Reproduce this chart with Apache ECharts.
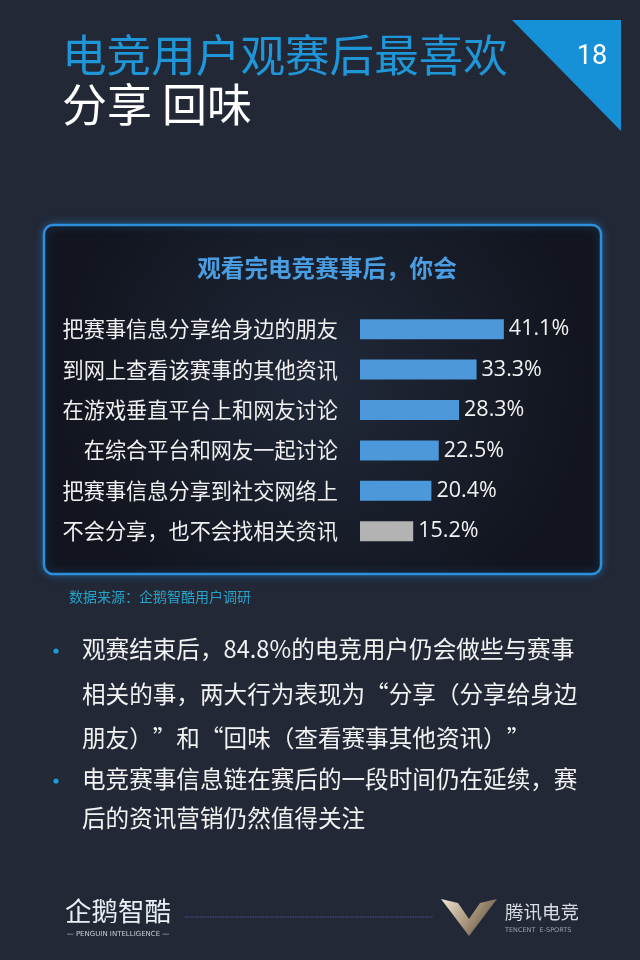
<!DOCTYPE html>
<html>
<head>
<meta charset="utf-8">
<script src="https://cdn.jsdelivr.net/npm/echarts@6/dist/echarts.min.js"></script>
<style>
html,body{margin:0;padding:0;background:#222836;}
#chart{width:640px;height:960px;}
</style>
</head>
<body>
<div id="chart"></div>
<script>
// ---- data ----
const pageTitle1 = '电竞用户观赛后最喜欢';
const pageTitle2 = '分享 回味';
const pageNumber = '18';
const chartTitle = '观看完电竞赛事后，你会';
const categories = [
  '把赛事信息分享给身边的朋友',
  '到网上查看该赛事的其他资讯',
  '在游戏垂直平台上和网友讨论',
  '在综合平台和网友一起讨论',
  '把赛事信息分享到社交网络上',
  '不会分享，也不会找相关资讯'
];
const values = [41.1, 33.3, 28.3, 22.5, 20.4, 15.2];
const sourceText = '数据来源：企鹅智酷用户调研';
const bulletLines = [
  '观赛结束后，84.8%的电竞用户仍会做些与赛事',
  '相关的事，两大行为表现为“分享（分享给身边',
  '朋友）”和“回味（查看赛事其他资讯）”',
  '电竞赛事信息链在赛后的一段时间仍在延续，赛',
  '后的资讯营销仍然值得关注'
];
const bulletStarts = [true, false, false, true, false];
const logoLeft = '企鹅智酷';
const logoLeftSub = '— PENGUIN INTELLIGENCE —';
const logoRight = '腾讯电竞';
const logoRightSub = 'TENCENT  E-SPORTS';

// ---- chart ----
const CJK = '"Noto Sans CJK SC", "Noto Sans", sans-serif';
const chart = echarts.init(document.getElementById('chart'), null, {renderer: 'canvas'});

const lineYs = [649, 694, 738, 779, 818];
const bulletGraphics = [];
bulletLines.forEach((t, i) => {
  bulletGraphics.push({
    type: 'text', x: 82, y: lineYs[i], z: 10,
    style: {text: t, fill: '#f2f2f2', font: '23.6px ' + CJK, textVerticalAlign: 'middle'}
  });
  if (bulletStarts[i]) {
    bulletGraphics.push({
      type: 'circle', shape: {cx: 56, cy: lineYs[i] + 2, r: 2.6}, z: 10,
      style: {fill: '#1f9ad8'}
    });
  }
});

const option = {
  backgroundColor: '#222836',
  animation: false,
  title: {
    text: chartTitle,
    left: 322, top: 251, textAlign: 'center',
    textStyle: {color: '#4b9de2', fontSize: 23.6, fontWeight: 'bold', fontFamily: CJK}
  },
  grid: {left: 360, top: 309, width: 245, height: 242.4, containLabel: false},
  xAxis: {
    type: 'value', min: 0, max: 70, show: false
  },
  yAxis: {
    type: 'category', data: categories, inverse: true,
    axisLine: {show: false}, axisTick: {show: false}, splitLine: {show: false},
    axisLabel: {color: '#f0f0f0', fontSize: 21.2, fontFamily: CJK, margin: 22}
  },
  series: [{
    type: 'bar', data: values, barWidth: 20, z: 5,
    itemStyle: {
      color: p => p.dataIndex === values.length - 1 ? '#b3b3b3' : '#4d98da'
    },
    label: {
      show: true, position: 'right', distance: 5,
      formatter: '{c}%', color: '#f2f2f2', fontSize: 21.5,
      fontFamily: '"Open Sans", "Noto Sans", sans-serif'
    }
  }],
  graphic: [
    // page number triangle
    {type: 'polygon', shape: {points: [[512, 20], [621, 20], [621, 131]]}, z: 1,
     style: {fill: '#1690d6'}},
    {type: 'text', x: 592, y: 57, z: 2,
     style: {text: pageNumber, fill: '#ffffff', font: '27px Roboto, "Noto Sans", sans-serif',
             textAlign: 'center', textVerticalAlign: 'middle'}},
    // page title
    {type: 'text', x: 62, y: 55, z: 2,
     style: {text: pageTitle1, fill: '#1e96d8', font: '44.6px ' + CJK, textVerticalAlign: 'middle'}},
    {type: 'text', x: 62, y: 105, z: 2,
     style: {text: pageTitle2, fill: '#ffffff', font: '45px ' + CJK, textVerticalAlign: 'middle'}},
    // chart box
    {type: 'rect', shape: {x: 44, y: 225, width: 557, height: 349, r: 9}, z: 0,
     style: {
       fill: {type: 'radial', x: 0.5, y: 0.45, r: 0.75,
              colorStops: [{offset: 0, color: '#202838'}, {offset: 1, color: '#12151f'}]},
       stroke: '#2c8fdc', lineWidth: 2.5,
       shadowBlur: 8, shadowColor: 'rgba(40,140,220,0.45)'
     }},
    // source
    {type: 'text', x: 69, y: 597, z: 2,
     style: {text: sourceText, fill: '#27a2c8', font: '14px ' + CJK, textVerticalAlign: 'middle'}},
    ...bulletGraphics,
    // footer left logo
    {type: 'text', x: 118, y: 911, z: 2,
     style: {text: logoLeft, fill: '#e6f0f4', font: '26.5px ' + CJK, textAlign: 'center', textVerticalAlign: 'middle'}},
    {type: 'text', x: 118, y: 934, z: 2,
     style: {text: logoLeftSub, fill: '#c8d0d8', font: '7px "DejaVu Sans", sans-serif', textAlign: 'center', textVerticalAlign: 'middle'}},
    // dotted line
    {type: 'line', shape: {x1: 185, y1: 917, x2: 433, y2: 917}, z: 2,
     style: {stroke: '#4c5896', lineWidth: 1.2, lineDash: [1.5, 1]}},
    // V logo
    {type: 'polygon', z: 2,
     shape: {points: [[441, 899], [458, 903], [469, 919], [480, 903], [497, 899], [469, 936]]},
     style: {fill: {type: 'linear', x: 0, y: 0, x2: 1, y2: 1,
                    colorStops: [{offset: 0, color: '#f0e6d2'}, {offset: 0.5, color: '#a8947a'}, {offset: 1, color: '#4a3c30'}]}}},
    {type: 'text', x: 505, y: 912, z: 2,
     style: {text: logoRight, fill: '#d8dce2', font: '18.5px ' + CJK, textVerticalAlign: 'middle'}},
    {type: 'text', x: 505, y: 930, z: 2,
     style: {text: logoRightSub, fill: '#9aa2ac', font: '6.5px "DejaVu Sans", sans-serif', textVerticalAlign: 'middle'}}
  ]
};
chart.setOption(option);
</script>
</body>
</html>
